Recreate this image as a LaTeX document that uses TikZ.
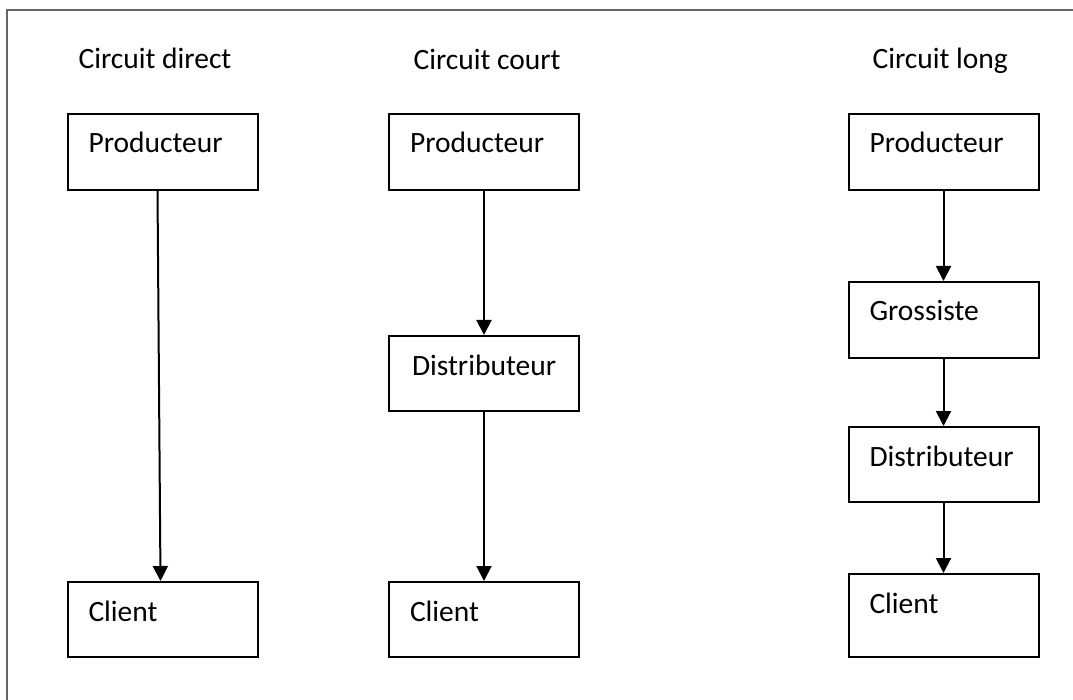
\documentclass[tikz,border=0pt]{standalone}
\usepackage{fontspec}
\setmainfont{Carlito}
\usetikzlibrary{arrows.meta}

\tikzset{
    box/.style={draw, line width=2pt, inner xsep=21pt, inner ysep=0pt,
        text width=148pt, text height=39pt, text depth=37pt, align=left},
    flow/.style={line width=2pt, -{Triangle[length=15pt,width=15pt]}}
}

\begin{document}
\begin{tikzpicture}[x=1pt, y=-1pt, font=\fontsize{29.5}{34}\selectfont]

    \useasboundingbox (0,0) rectangle (1073,700);

    \draw [gray!80!black, line width=2pt] (7,700) -- (7,10) -- (1073,10);

    % circuit direct
    \node [anchor=base west] (titleDirect) at (75,69) {Circuit direct};
    \node [box] (prodDirect) at (162.5,152) {Producteur};
    \node [box, text depth=36pt] (clientDirect) at (162.5,619.5) {Client};

    \draw [flow] ([xshift=-5pt]prodDirect.south) -- ([xshift=-2pt]clientDirect.north);

    % circuit court
    \node [anchor=base west] (titleCourt) at (410,70) {Circuit court};
    \node [box] (prodCourt) at (484,152) {Producteur};
    \node [box, inner xsep=23pt, text width=144pt, text depth=36pt] (distCourt) at (484,373.5) {Distributeur};
    \node [box, text depth=36pt] (clientCourt) at (484,619.5) {Client};

    \draw [flow] (prodCourt) -- (distCourt);
    \draw [flow] (distCourt) -- (clientCourt);

    % circuit long
    \node [anchor=base west] (titleLong) at (869,69) {Circuit long};
    \node [box] (prodLong) at (943.5,152) {Producteur};
    \node [box] (grossLong) at (943.5,320) {Grossiste};
    \node [box, text depth=36pt] (distLong) at (943.5,464.5) {Distributeur};
    \node [box, text depth=44pt] (clientLong) at (943.5,615.5) {Client};

    \draw [flow] (prodLong) -- (grossLong);
    \draw [flow] (grossLong) -- (distLong);
    \draw [flow] (distLong) -- (clientLong);

\end{tikzpicture}
\end{document}
